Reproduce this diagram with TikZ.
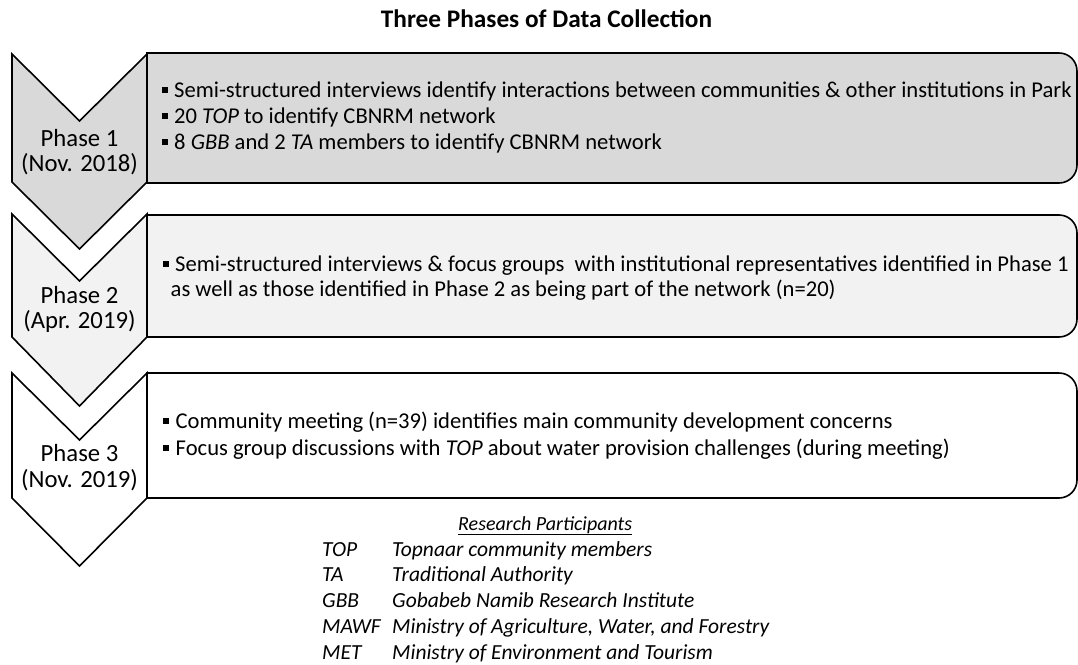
\documentclass[tikz,border=0pt]{standalone}
\usepackage{fontspec}
\setmainfont{Carlito}
\newcommand{\mybul}{\raisebox{4.2pt}{\rule{6pt}{6pt}}\hspace{6.5pt}}
\definecolor{gA}{HTML}{D9D9D9}
\definecolor{gB}{HTML}{F2F2F2}
\tikzset{
  shapeln/.style={draw=black, line width=1.6pt, line join=miter},
  txt/.style={inner sep=0pt, anchor=base west, font=\fontsize{22.6}{26}\selectfont},
  phasetxt/.style={inner sep=0pt, anchor=base, font=\fontsize{24.7}{26}\selectfont},
  legtxt/.style={inner sep=0pt, anchor=base west, font=\fontsize{21.5}{24}\selectfont\itshape},
}
\begin{document}
\begin{tikzpicture}[x=1pt,y=-1pt]
\useasboundingbox (0,0) rectangle (1078,664);
% title
\node[inner sep=0pt, anchor=base, font=\fontsize{25.3}{28}\selectfont\bfseries] (title) at (546.5,27.5) {Three Phases of Data Collection};

% phase 1
\draw[shapeln, fill=gA] (147,53) -- (1059,53) arc[start angle=90, end angle=0, radius=18pt] -- (1077,165) arc[start angle=0, end angle=-90, radius=18pt] -- (147,183) -- cycle;
\draw[shapeln, fill=gA] (12,54) -- (79.5,121) -- (147,54) -- (147,182) -- (79.5,249) -- (12,182) -- cycle;
% phase 2
\draw[shapeln, fill=gB] (147,215) -- (1059,215) arc[start angle=90, end angle=0, radius=18pt] -- (1077,319) arc[start angle=0, end angle=-90, radius=18pt] -- (147,337) -- cycle;
\draw[shapeln, fill=gB] (12,214) -- (79.5,281) -- (147,214) -- (147,337) -- (79.5,406) -- (12,337) -- cycle;
% phase 3
\draw[shapeln, fill=white] (147,373) -- (1059,373) arc[start angle=90, end angle=0, radius=18pt] -- (1077,480) arc[start angle=0, end angle=-90, radius=18pt] -- (147,498) -- cycle;
\draw[shapeln, fill=white] (12,373) -- (79.5,440) -- (147,373) -- (147,498) -- (79.5,566) -- (12,498) -- cycle;

% phase labels
\node[phasetxt] (p1a) at (79.5,146) {Phase 1};
\node[phasetxt] (p1b) at (79.5,171) {(Nov. 2018)};
\node[phasetxt] (p2a) at (79.5,303) {Phase 2};
\node[phasetxt] (p2b) at (79.5,328) {(Apr. 2019)};
\node[phasetxt] (p3a) at (79.5,461.5) {Phase 3};
\node[phasetxt] (p3b) at (79.5,487) {(Nov. 2019)};

% box texts
\node[txt] (b1a) at (161.5,97) {\mybul Semi-structured interviews identify interactions between communities \& other institutions in Park};
\node[txt] (b1b) at (161.5,123.5) {\mybul 20 \textit{TOP} to identify CBNRM network};
\node[txt] (b1c) at (161.5,149.5) {\mybul 8 \textit{GBB} and 2 \textit{TA} members to identify CBNRM network};

\node[txt] (b2a) at (162.5,271.5) {\mybul Semi-structured interviews \& focus groups\ \ with institutional representatives identified in Phase 1};
\node[txt] (b2b) at (170.5,296.5) {as well as those identified in Phase 2 as being part of the network (n=20)};

\node[txt] (b3a) at (163,428) {\mybul Community meeting (n=39) identifies main community development concerns};
\node[txt] (b3b) at (163,455) {\mybul Focus group discussions with \textit{TOP} about water provision challenges (during meeting)};

% legend
\node[inner sep=0pt, anchor=base west, font=\fontsize{20}{24}\selectfont\itshape] (lh) at (458,530) {\underline{Research Participants}};
\node[legtxt] (l1a) at (322,556) {TOP};
\node[legtxt] (l1b) at (392,556) {Topnaar community members};
\node[legtxt] (l2a) at (322,581.5) {TA};
\node[legtxt] (l2b) at (392,581.5) {Traditional Authority};
\node[legtxt] (l3a) at (322,607.5) {GBB};
\node[legtxt] (l3b) at (392,607.5) {Gobabeb Namib Research Institute};
\node[legtxt] (l4a) at (322,633.5) {MAWF};
\node[legtxt] (l4b) at (392,633.5) {Ministry of Agriculture, Water, and Forestry};
\node[legtxt] (l5a) at (322,659) {MET};
\node[legtxt] (l5b) at (392,659) {Ministry of Environment and Tourism};
\end{tikzpicture}
\end{document}
